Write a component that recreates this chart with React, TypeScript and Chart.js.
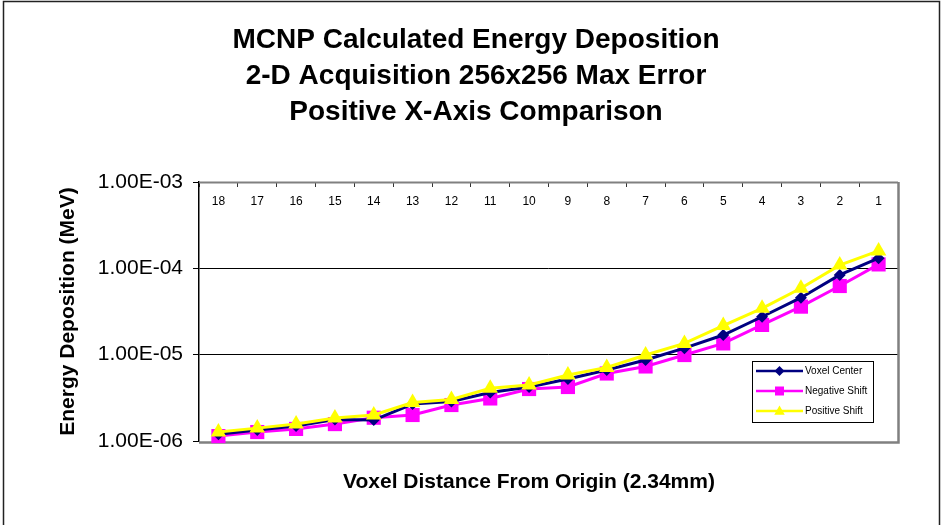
import React, { useEffect, useRef } from 'react';
import { Chart, registerables } from 'chart.js';

Chart.register(...registerables);

// ---- data ----
const titleLines = [
  'MCNP Calculated Energy Deposition',
  '2-D Acquisition 256x256 Max Error',
  'Positive X-Axis Comparison',
];
const xAxisTitle = 'Voxel Distance From Origin (2.34mm)';
const yAxisTitle = 'Energy Deposition (MeV)';

const categories = ['18', '17', '16', '15', '14', '13', '12', '11', '10', '9', '8', '7', '6', '5', '4', '3', '2', '1'];

const voxelCenter = [
  1.20e-6, 1.34e-6, 1.49e-6, 1.77e-6, 1.75e-6, 2.68e-6, 2.87e-6, 3.65e-6, 4.22e-6,
  5.22e-6, 6.64e-6, 8.67e-6, 1.19e-5, 1.69e-5, 2.75e-5, 4.57e-5, 8.38e-5, 1.31e-4,
];
const negativeShift = [
  1.14e-6, 1.27e-6, 1.38e-6, 1.57e-6, 1.86e-6, 2.00e-6, 2.61e-6, 3.11e-6, 4.00e-6,
  4.22e-6, 6.05e-6, 7.30e-6, 9.90e-6, 1.35e-5, 2.21e-5, 3.60e-5, 6.24e-5, 1.11e-4,
];
const positiveShift = [
  1.27e-6, 1.41e-6, 1.57e-6, 1.85e-6, 2.00e-6, 2.79e-6, 3.03e-6, 4.08e-6, 4.45e-6,
  5.82e-6, 7.10e-6, 9.90e-6, 1.35e-5, 2.17e-5, 3.44e-5, 5.87e-5, 1.09e-4, 1.59e-4,
];

const seriesLabels = ['Voxel Center', 'Negative Shift', 'Positive Shift'];
const yTickValues = [1e-6, 1e-5, 1e-4, 1e-3];

const FONT = 'Arial, "Liberation Sans", Helvetica, sans-serif';

function formatE(v: number): string {
  const exp = Math.round(Math.log10(v));
  const mant = v / Math.pow(10, exp);
  return mant.toFixed(2) + 'E' + (exp < 0 ? '-' : '+') + String(Math.abs(exp)).padStart(2, '0');
}

function drawMarker(ctx: CanvasRenderingContext2D, style: string, x: number, y: number, r: number, color: string) {
  ctx.save();
  ctx.fillStyle = color;
  ctx.beginPath();
  if (style === 'rectRot') {
    ctx.moveTo(x, y - r);
    ctx.lineTo(x + r, y);
    ctx.lineTo(x, y + r);
    ctx.lineTo(x - r, y);
  } else if (style === 'rect') {
    ctx.rect(x - r, y - r, 2 * r, 2 * r);
  } else {
    ctx.moveTo(x, y - r);
    ctx.lineTo(x + r * 0.95, y + r * 0.7);
    ctx.lineTo(x - r * 0.95, y + r * 0.7);
  }
  ctx.closePath();
  ctx.fill();
  ctx.restore();
}

const outerBorderPlugin = {
  id: 'outerBorder',
  beforeDraw(chart: any) {
    const ctx = chart.ctx;
    ctx.save();
    ctx.strokeStyle = '#222';
    ctx.lineWidth = 1.5;
    ctx.beginPath();
    ctx.moveTo(3.5, 530);
    ctx.lineTo(3.5, 1.5);
    ctx.lineTo(939.5, 1.5);
    ctx.lineTo(939.5, 530);
    ctx.stroke();
    ctx.restore();
  },
};

const framePlugin = {
  id: 'plotFrame',
  beforeDatasetsDraw(chart: any) {
    const { ctx, chartArea } = chart;
    const { left, right, top, bottom } = chartArea;
    ctx.save();
    ctx.strokeStyle = '#808080';
    ctx.lineWidth = 2;
    ctx.beginPath();
    ctx.moveTo(left, top + 0.5);
    ctx.lineTo(right, top + 0.5);
    ctx.stroke();
    ctx.lineWidth = 2.5;
    ctx.beginPath();
    ctx.moveTo(right + 0.5, top);
    ctx.lineTo(right + 0.5, bottom + 1.5);
    ctx.lineTo(left, bottom + 1.5);
    ctx.stroke();
    ctx.restore();
  },
};

const legendPlugin = {
  id: 'insideLegend',
  afterDraw(chart: any) {
    const ctx = chart.ctx;
    const bx = 752.5, by = 361.5, bw = 121, bh = 61;
    ctx.save();
    ctx.fillStyle = '#fff';
    ctx.fillRect(bx, by, bw, bh);
    ctx.strokeStyle = '#000';
    ctx.lineWidth = 1;
    ctx.strokeRect(bx, by, bw, bh);
    const sizes: Record<string, number> = { rectRot: 5, rect: 4.5, triangle: 5.5 };
    chart.data.datasets.forEach((ds: any, i: number) => {
      const y = 371 + i * 20;
      ctx.strokeStyle = ds.borderColor;
      ctx.lineWidth = 2.5;
      ctx.beginPath();
      ctx.moveTo(756, y);
      ctx.lineTo(803, y);
      ctx.stroke();
      drawMarker(ctx, ds.pointStyle, 779.5, y, sizes[ds.pointStyle] || 5, ds.backgroundColor);
      ctx.fillStyle = '#000';
      ctx.font = '10px ' + FONT;
      ctx.textAlign = 'left';
      ctx.textBaseline = 'middle';
      ctx.fillText(ds.label, 805, y);
    });
    ctx.restore();
  },
};

const xTitlePlugin = {
  id: 'xTitle',
  afterDraw(chart: any) {
    const ctx = chart.ctx;
    ctx.save();
    ctx.fillStyle = '#000';
    ctx.font = 'bold 21px ' + FONT;
    ctx.textAlign = 'center';
    ctx.textBaseline = 'middle';
    ctx.fillText(xAxisTitle, 529, 482);
    ctx.restore();
  },
};

export default function App() {
  const ref = useRef<HTMLCanvasElement>(null);

  useEffect(() => {
    Chart.defaults.font.family = FONT;
    Chart.defaults.color = '#000';
    const lastIdx = yTickValues.length - 1;
    const chart = new Chart(ref.current as HTMLCanvasElement, {
      type: 'line',
      data: {
        labels: categories,
        datasets: [
          {
            label: seriesLabels[0],
            data: voxelCenter,
            borderColor: '#000080',
            backgroundColor: '#000080',
            borderWidth: 3,
            pointStyle: 'rectRot',
            pointRadius: 6,
            pointBorderWidth: 0,
            tension: 0,
            order: 1,
            clip: false as any,
          },
          {
            label: seriesLabels[1],
            data: negativeShift,
            borderColor: '#FF00FF',
            backgroundColor: '#FF00FF',
            borderWidth: 3,
            pointStyle: 'rect',
            pointRadius: 10,
            pointBorderWidth: 0,
            tension: 0,
            order: 2,
            clip: false as any,
          },
          {
            label: seriesLabels[2],
            data: positiveShift,
            borderColor: '#FFFF00',
            backgroundColor: '#FFFF00',
            borderWidth: 3,
            pointStyle: 'triangle',
            pointRadius: 9,
            pointBorderWidth: 0,
            tension: 0,
            order: 0,
            clip: false as any,
          },
        ],
      },
      options: {
        animation: false,
        responsive: true,
        maintainAspectRatio: false,
        events: [],
        layout: { padding: { left: 54, right: 44, top: 0, bottom: 84 } },
        plugins: {
          legend: { display: false },
          tooltip: { enabled: false },
          title: {
            display: true,
            text: titleLines,
            color: '#000',
            font: { size: 28, weight: 'bold', lineHeight: 36 / 28, family: FONT },
            padding: { top: 22, bottom: 52 },
          },
        },
        scales: {
          x: {
            type: 'category',
            position: 'top',
            offset: true,
            grid: {
              display: true,
              drawOnChartArea: false,
              drawTicks: true,
              tickLength: -5,
              offset: true,
              tickColor: '#333',
              tickWidth: 1,
            },
            border: { display: false },
            ticks: {
              font: { size: 12, family: FONT },
              color: '#000',
              mirror: true,
              padding: 12,
              autoSkip: false,
              maxRotation: 0,
              minRotation: 0,
            },
            afterFit: (s: any) => {
              s.height = 0;
            },
          },
          y: {
            type: 'logarithmic',
            position: 'left',
            min: 1e-6,
            max: 1e-3,
            afterBuildTicks: (s: any) => {
              s.ticks = yTickValues.map((v) => ({ value: v }));
            },
            ticks: {
              callback: (v: any) => formatE(Number(v)),
              font: { size: 21, family: FONT },
              color: '#000',
              padding: 10,
              autoSkip: false,
            },
            grid: {
              color: (c: any) => (c.index === 0 || c.index === lastIdx ? 'rgba(0,0,0,0)' : '#000'),
              lineWidth: 1,
              drawTicks: true,
              tickLength: 6,
              tickColor: '#000',
              tickWidth: 1,
            },
            border: { display: true, color: '#000', width: 1.5 },
            title: {
              display: true,
              text: yAxisTitle,
              color: '#000',
              font: { size: 21, weight: 'bold', family: FONT },
              padding: { top: 1.4, bottom: 0 },
            },
            afterFit: (s: any) => {
              s.width = 145;
            },
          },
        },
      } as any,
      plugins: [outerBorderPlugin, framePlugin, legendPlugin, xTitlePlugin],
    });
    return () => chart.destroy();
  }, []);

  return (
    <div style={{ position: 'absolute', left: 0, top: 0, width: 942, height: 525, background: '#fff' }}>
      <canvas ref={ref} />
    </div>
  );
}
